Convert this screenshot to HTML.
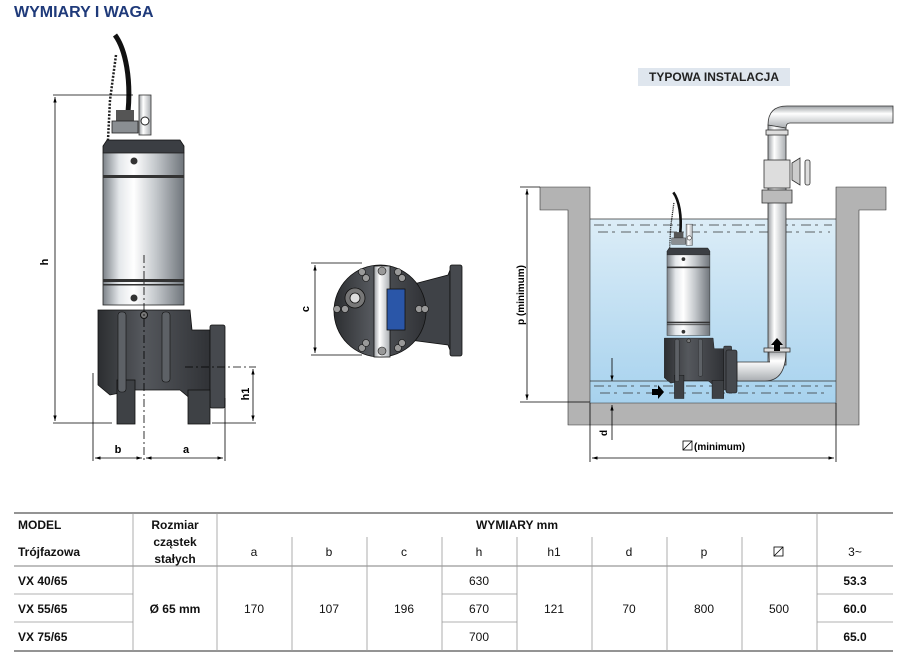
<!DOCTYPE html>
<html><head><meta charset="utf-8"><style>
html,body{margin:0;padding:0;background:#fff;}
body{width:906px;height:663px;overflow:hidden;font-family:"Liberation Sans",sans-serif;}
</style></head><body>
<svg width="906" height="663" viewBox="0 0 906 663" xmlns="http://www.w3.org/2000/svg" font-family="Liberation Sans, sans-serif">
<defs>
<linearGradient id="steel" x1="0" x2="1" y1="0" y2="0">
<stop offset="0" stop-color="#7d8389"/><stop offset="0.2" stop-color="#e4e7ea"/><stop offset="0.38" stop-color="#ffffff"/><stop offset="0.65" stop-color="#c4c8cc"/><stop offset="1" stop-color="#6f757b"/></linearGradient>
<linearGradient id="dark" x1="0" x2="1" y1="0" y2="0">
<stop offset="0" stop-color="#2c2e31"/><stop offset="0.4" stop-color="#55585d"/><stop offset="1" stop-color="#303236"/></linearGradient>
<linearGradient id="pipe" x1="0" x2="1" y1="0" y2="0">
<stop offset="0" stop-color="#9a9ea2"/><stop offset="0.35" stop-color="#ffffff"/><stop offset="1" stop-color="#a9adb1"/></linearGradient>
<linearGradient id="pipeh" x1="0" x2="0" y1="0" y2="1">
<stop offset="0" stop-color="#9a9ea2"/><stop offset="0.35" stop-color="#ffffff"/><stop offset="1" stop-color="#a9adb1"/></linearGradient>
<linearGradient id="water" x1="0" x2="0" y1="0" y2="1">
<stop offset="0" stop-color="#dcedf7"/><stop offset="1" stop-color="#a7d2ee"/></linearGradient>
<marker id="ar" viewBox="0 0 10 10" refX="10" refY="5" markerWidth="7" markerHeight="7" orient="auto-start-reverse"><path d="M0,2 L10,5 L0,8 z" fill="#000"/></marker>
<g id="pump">
<path d="M115,35 C126,50 131,80 128,112" fill="none" stroke="#111" stroke-width="5"/>
<path d="M116,55 L110,100 L108,140" fill="none" stroke="#222" stroke-width="2.5" stroke-dasharray="2 1.5"/>
<rect x="116" y="110" width="18" height="14" fill="#555"/>
<rect x="112" y="121" width="26" height="12" fill="#8a8e92" stroke="#222" stroke-width="0.8"/>
<rect x="139" y="95" width="12" height="40" fill="url(#pipe)" stroke="#333" stroke-width="0.8"/>
<circle cx="145" cy="121" r="4" fill="#fff" stroke="#222"/>
<path d="M107,140 L180,140 L184,146 L184,153 L103,153 L103,146 Z" fill="#3b3e43" stroke="#111" stroke-width="0.8"/>
<rect x="103" y="153" width="81" height="152" fill="url(#steel)" stroke="#222" stroke-width="0.8"/>
<rect x="103" y="175" width="81" height="3" fill="#333"/>
<rect x="103" y="279" width="81" height="3" fill="#333"/>
<rect x="103" y="284" width="81" height="1.5" fill="#333"/>
<circle cx="134" cy="161" r="3.5" fill="#333"/><circle cx="134" cy="298" r="3.5" fill="#333"/>
<path d="M98,310 L190,310 L192,330 L210,330 L210,400 L192,400 L180,390 L135,390 L110,395 L98,385 Z" fill="url(#dark)" stroke="#111" stroke-width="0.8"/>
<rect x="210" y="325" width="15" height="83" rx="2" fill="#46494e" stroke="#111" stroke-width="0.8"/>
<rect x="117" y="380" width="18" height="44" fill="#3e4145" stroke="#111" stroke-width="0.8"/>
<rect x="188" y="390" width="22" height="34" fill="#3e4145" stroke="#111" stroke-width="0.8"/>
<rect x="118" y="312" width="8" height="80" rx="3" fill="#5d6166" stroke="#111" stroke-width="0.6"/>
<rect x="162" y="312" width="8" height="70" rx="3" fill="#5d6166" stroke="#111" stroke-width="0.6"/>
<circle cx="144" cy="315" r="3.5" fill="#777" stroke="#111"/>
</g>
</defs>

<text x="14" y="17" font-size="16" font-weight="bold" fill="#1f3a7a">WYMIARY I WAGA</text>

<!-- left pump -->
<use href="#pump"/>
<g stroke="#000" stroke-width="0.8" fill="none">
<line x1="53" y1="95" x2="133" y2="95"/>
<line x1="53" y1="423" x2="112" y2="423"/>
<line x1="212" y1="423" x2="256" y2="423"/>
<line x1="55" y1="97" x2="55" y2="421" marker-start="url(#ar)" marker-end="url(#ar)"/>
<line x1="185" y1="367" x2="256" y2="367" stroke-dasharray="8 3 2 3"/>
<line x1="253" y1="369" x2="253" y2="421" marker-start="url(#ar)" marker-end="url(#ar)"/>
<line x1="93" y1="373" x2="93" y2="461"/>
<line x1="225" y1="398" x2="225" y2="461"/>
<line x1="144" y1="255" x2="144" y2="463" stroke-dasharray="8 3 2 3"/>
<line x1="95" y1="458" x2="142" y2="458" marker-start="url(#ar)" marker-end="url(#ar)"/>
<line x1="146" y1="458" x2="223" y2="458" marker-start="url(#ar)" marker-end="url(#ar)"/>
</g>
<text x="0" y="0" font-size="11" font-weight="bold" transform="translate(48,262) rotate(-90)" text-anchor="middle">h</text>
<text x="0" y="0" font-size="11" font-weight="bold" transform="translate(249,394) rotate(-90)" text-anchor="middle">h1</text>
<text x="118" y="453" font-size="11" font-weight="bold" text-anchor="middle">b</text>
<text x="186" y="453" font-size="11" font-weight="bold" text-anchor="middle">a</text>

<!-- middle bottom view -->
<g stroke="#111" stroke-width="0.8">
<path d="M410,285 L448,275 L450,270 L450,350 L448,345 L410,340 Z" fill="#3f4247"/>
<rect x="450" y="265" width="12" height="91" rx="2" fill="#46494e"/>
<circle cx="380" cy="311" r="46" fill="url(#dark)"/>
<circle cx="355" cy="298" r="10" fill="#777"/><circle cx="355" cy="298" r="5" fill="#ddd"/>
<rect x="374" y="266" width="16" height="91" fill="url(#pipe)"/>
<rect x="387" y="289" width="18" height="41" fill="#2a56a8"/>
</g>
<g fill="#999" stroke="#111" stroke-width="0.6">
<circle cx="362" cy="272" r="3.5"/><circle cx="398" cy="272" r="3.5"/><circle cx="366" cy="278" r="3.5"/><circle cx="402" cy="278" r="3.5"/>
<circle cx="362" cy="348" r="3.5"/><circle cx="398" cy="348" r="3.5"/><circle cx="366" cy="343" r="3.5"/><circle cx="402" cy="343" r="3.5"/>
<circle cx="337" cy="309" r="3.5"/><circle cx="345" cy="309" r="3.5"/><circle cx="419" cy="309" r="3.5"/><circle cx="425" cy="309" r="3.5"/>
<circle cx="382" cy="271" r="4"/><circle cx="382" cy="351" r="4"/>
</g>
<g stroke="#000" stroke-width="0.8" fill="none">
<line x1="311" y1="263" x2="362" y2="263"/>
<line x1="311" y1="355" x2="362" y2="355"/>
<line x1="315" y1="265" x2="315" y2="353" marker-start="url(#ar)" marker-end="url(#ar)"/>
</g>
<text font-size="11" font-weight="bold" transform="translate(309,309) rotate(-90)" text-anchor="middle">c</text>

<!-- installation -->
<rect x="638" y="68" width="152" height="18" fill="#dfe6ee"/>
<text x="714" y="81" font-size="12" font-weight="bold" text-anchor="middle" fill="#222">TYPOWA INSTALACJA</text>
<rect x="590" y="219" width="246" height="184" fill="url(#water)"/>
<g fill="#b3b3b3" stroke="#333" stroke-width="0.6">
<path d="M540,187 L590,187 L590,403 L836,403 L836,187 L886,187 L886,210 L859,210 L859,425 L568,425 L568,210 L540,210 Z"/>
</g>
<line x1="590" y1="219" x2="836" y2="219" stroke="#333" stroke-width="0.8"/>
<line x1="590" y1="381" x2="836" y2="381" stroke="#333" stroke-width="0.8"/>
<g stroke="#333" stroke-width="0.8" stroke-dasharray="10 4 3 6">
<line x1="594" y1="225" x2="832" y2="225"/><line x1="598" y1="232" x2="830" y2="232"/>
<line x1="594" y1="386" x2="832" y2="386"/><line x1="600" y1="393" x2="830" y2="393"/>
</g>
<!-- pipe -->
<g stroke="#333" stroke-width="0.8">
<rect x="768" y="125" width="18" height="240" fill="url(#pipe)"/>
<path d="M768,125 Q768,106 787,106 L893,106 L893,123 L790,123 Q786,123 786,128 Z" fill="url(#pipeh)"/>
<rect x="766" y="130" width="22" height="5" fill="#ddd"/>
<rect x="764" y="160" width="26" height="28" fill="#ddd"/>
<rect x="762" y="190" width="30" height="13" fill="#bbb"/>
<path d="M792,163 L800,158 L800,185 L792,180 Z" fill="#ccc"/>
<rect x="805" y="160" width="5" height="25" rx="2" fill="#ddd"/>
<path d="M737,362 L770,362 Q769,362 769,350 L786,350 Q786,381 765,381 L737,381 Z" fill="url(#pipeh)"/>
<rect x="764" y="348" width="26" height="4" fill="#ddd"/>
</g>
<path d="M777,338 L771,345 L774,345 L774,351 L780,351 L780,345 L783,345 Z" fill="#000"/>
<path d="M652,389 L658,389 L658,385 L664,392 L658,399 L658,395 L652,395 Z" fill="#000"/>
<g transform="translate(612.4,173.8) scale(0.53)"><use href="#pump"/></g>
<rect x="726" y="350" width="11" height="43" rx="2" fill="#46494e" stroke="#111" stroke-width="0.6"/>
<!-- dims -->
<g stroke="#000" stroke-width="0.8" fill="none">
<line x1="520" y1="187" x2="540" y2="187"/>
<line x1="520" y1="402" x2="590" y2="402"/>
<line x1="527" y1="189" x2="527" y2="400" marker-start="url(#ar)" marker-end="url(#ar)"/>
<line x1="612" y1="358" x2="612" y2="381" marker-end="url(#ar)"/>
<line x1="612" y1="440" x2="612" y2="405" marker-end="url(#ar)"/>
<line x1="590" y1="403" x2="590" y2="462"/>
<line x1="836" y1="403" x2="836" y2="462"/>
<line x1="592" y1="458" x2="834" y2="458" marker-start="url(#ar)" marker-end="url(#ar)"/>
</g>
<text font-size="10" font-weight="bold" transform="translate(524,295) rotate(-90)" text-anchor="middle">p  (minimum)</text>
<text font-size="10" font-weight="bold" transform="translate(607,433) rotate(-90)" text-anchor="middle">d</text>
<rect x="683" y="441" width="9" height="9" fill="none" stroke="#000" stroke-width="0.8"/><line x1="683" y1="450" x2="692" y2="441" stroke="#000" stroke-width="0.8"/>
<text x="694" y="450" font-size="10" font-weight="bold">(minimum)</text>

<!-- table -->
<g stroke="#999" stroke-width="0.8">
<line x1="14" y1="513" x2="893" y2="513" stroke="#555" stroke-width="1.2"/>
<line x1="14" y1="566" x2="893" y2="566" stroke="#555"/>
<line x1="14" y1="594" x2="133" y2="594"/><line x1="14" y1="622" x2="133" y2="622"/>
<line x1="442" y1="594" x2="517" y2="594"/><line x1="442" y1="622" x2="517" y2="622"/>
<line x1="817" y1="594" x2="893" y2="594"/><line x1="817" y1="622" x2="893" y2="622"/>
<line x1="14" y1="651" x2="893" y2="651" stroke="#555" stroke-width="1.2"/>
<line x1="133" y1="513" x2="133" y2="651"/><line x1="217" y1="513" x2="217" y2="651"/><line x1="817" y1="513" x2="817" y2="651"/>
<line x1="292" y1="537" x2="292" y2="651"/><line x1="367" y1="537" x2="367" y2="651"/><line x1="442" y1="537" x2="442" y2="651"/>
<line x1="517" y1="537" x2="517" y2="651"/><line x1="592" y1="537" x2="592" y2="651"/><line x1="667" y1="537" x2="667" y2="651"/><line x1="742" y1="537" x2="742" y2="651"/>
</g>
<g font-size="12" fill="#111">
<text x="18" y="529" font-weight="bold">MODEL</text>
<text x="18" y="556" font-weight="bold">Trójfazowa</text>
<text x="175" y="529" font-weight="bold" text-anchor="middle">Rozmiar</text>
<text x="175" y="546" font-weight="bold" text-anchor="middle">cząstek</text>
<text x="175" y="563" font-weight="bold" text-anchor="middle">stałych</text>
<text x="517" y="529" font-weight="bold" text-anchor="middle">WYMIARY mm</text>
<g text-anchor="middle">
<text x="254" y="556">a</text><text x="329" y="556">b</text><text x="404" y="556">c</text><text x="479" y="556">h</text>
<text x="554" y="556">h1</text><text x="629" y="556">d</text><text x="704" y="556">p</text><text x="855" y="556">3~</text>
<text x="175" y="613" font-weight="bold">Ø 65 mm</text>
<text x="254" y="613">170</text><text x="329" y="613">107</text><text x="404" y="613">196</text>
<text x="479" y="585">630</text><text x="479" y="613">670</text><text x="479" y="641">700</text>
<text x="554" y="613">121</text><text x="629" y="613">70</text><text x="704" y="613">800</text><text x="779" y="613">500</text>
<text x="855" y="585" font-weight="bold">53.3</text><text x="855" y="613" font-weight="bold">60.0</text><text x="855" y="641" font-weight="bold">65.0</text>
</g>
<text x="18" y="585" font-weight="bold">VX 40/65</text>
<text x="18" y="613" font-weight="bold">VX 55/65</text>
<text x="18" y="641" font-weight="bold">VX 75/65</text>
</g>
<rect x="774" y="547" width="9" height="9" fill="none" stroke="#000" stroke-width="0.8"/><line x1="774" y1="556" x2="783" y2="547" stroke="#000" stroke-width="0.8"/>
</svg>
</body></html>
